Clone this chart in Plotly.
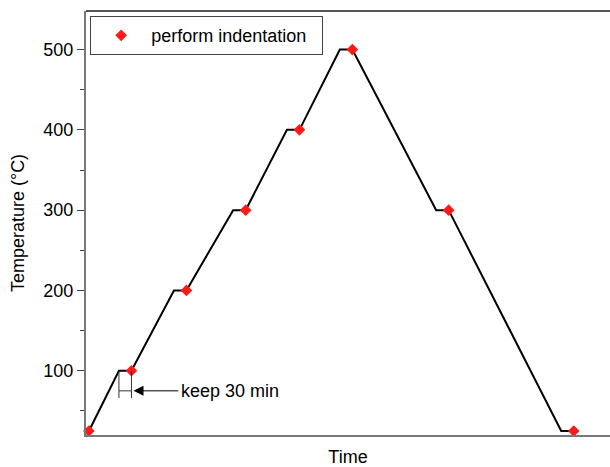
import plotly.graph_objects as go

# Temperature program (time in minutes, temperature in °C)
time_profile = [0, 72, 102, 204, 234, 346, 376, 475, 505, 602, 632, 833, 863, 1133, 1163]
temp_profile = [25, 100, 100, 200, 200, 300, 300, 400, 400, 500, 500, 300, 300, 25, 25]

# Indentation points
indent_time = [0, 102, 234, 376, 505, 632, 863, 1163]
indent_temp = [25, 100, 200, 300, 400, 500, 300, 25]

hold_start, hold_end = 72, 102
bracket_low, bracket_mid = 66, 75
label_x = 218

y_ticks = [100, 200, 300, 400, 500]

FONT = "Arial, Liberation Sans, sans-serif"

fig = go.Figure()
fig.add_trace(go.Scatter(
    x=time_profile, y=temp_profile, mode="lines",
    line=dict(color="black", width=2), showlegend=False, hoverinfo="skip"))
fig.add_trace(go.Scatter(
    x=indent_time, y=indent_temp, mode="markers",
    name="perform indentation\u00a0\u00a0",
    marker=dict(symbol="diamond", size=9, color="#ff1a1a", line=dict(width=0)),
    cliponaxis=False))

# bracket showing the 30 min hold
for xv in (hold_start, hold_end):
    fig.add_shape(type="line", x0=xv, x1=xv, y0=bracket_low, y1=100,
                  line=dict(color="#333", width=1))
fig.add_shape(type="line", x0=hold_start, x1=hold_end, y0=bracket_mid, y1=bracket_mid,
              line=dict(color="#333", width=1))
fig.add_annotation(x=hold_end + 5, y=bracket_mid, ax=label_x, ay=bracket_mid,
                   axref="x", ayref="y", xref="x", yref="y", text="",
                   showarrow=True, arrowhead=2, arrowsize=2, arrowwidth=1,
                   arrowcolor="black", standoff=0)
fig.add_annotation(x=label_x - 2, y=bracket_mid, xref="x", yref="y", text="keep 30 min",
                   showarrow=False, xanchor="left", yanchor="middle",
                   font=dict(family=FONT, size=18, color="black"))

# top frame line
fig.add_shape(type="line", xref="paper", yref="paper", x0=0, x1=1, y0=1, y1=1,
              line=dict(color="#555", width=2))

fig.update_layout(
    width=610, height=467,
    margin=dict(l=86, r=0, t=11, b=32),
    paper_bgcolor="white", plot_bgcolor="white",
    font=dict(family=FONT, size=18, color="black"),
    showlegend=True,
    legend=dict(x=0.008, y=0.988, xanchor="left", yanchor="top",
                bordercolor="#444", borderwidth=1, bgcolor="white",
                itemwidth=50,
                font=dict(family=FONT, size=18, color="black")),
    xaxis=dict(range=[-7, 1250], showgrid=False, zeroline=False,
               showticklabels=False, ticks="", showline=True,
               linecolor="#777", linewidth=2,
               title=dict(text="Time", font=dict(size=18), standoff=15)),
    yaxis=dict(range=[20, 548], showgrid=False, zeroline=False,
               tickmode="array", tickvals=y_ticks,
               ticks="outside", ticklen=7, tickwidth=1, tickcolor="#444",
               showline=True, linecolor="#777", linewidth=2,
               tickfont=dict(size=18),
               minor=dict(ticks="outside", ticklen=4, tickwidth=1, tickcolor="#444",
                          tickmode="array", tickvals=[50, 150, 250, 350, 450]),
               title=dict(text="Temperature (°C)", font=dict(size=18), standoff=14)),
)

fig.write_html("out.html")
